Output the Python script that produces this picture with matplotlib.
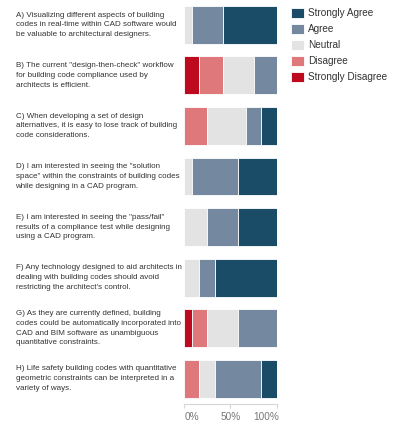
import matplotlib
matplotlib.use("Agg")
import matplotlib.pyplot as plt
import matplotlib.transforms as mtransforms
import numpy as np

plt.rcParams['font.family'] = ['Liberation Sans', 'DejaVu Sans']

questions = [
    'A) Visualizing different aspects of building\ncodes in real-time within CAD software would\nbe valuable to architectural designers.',
    'B) The current "design-then-check" workflow\nfor building code compliance used by\narchitects is efficient.',
    'C) When developing a set of design\nalternatives, it is easy to lose track of building\ncode considerations.',
    'D) I am interested in seeing the "solution\nspace" within the constraints of building codes\nwhile designing in a CAD program.',
    'E) I am interested in seeing the "pass/fail"\nresults of a compliance test while designing\nusing a CAD program.',
    "F) Any technology designed to aid architects in\ndealing with building codes should avoid\nrestricting the architect's control.",
    'G) As they are currently defined, building\ncodes could be automatically incorporated into\nCAD and BIM software as unambiguous\nquantitative constraints.',
    'H) Life safety building codes with quantitative\ngeometric constraints can be interpreted in a\nvariety of ways.',
]

# response counts (out of 12 respondents)
strongly_disagree = [0, 2, 0, 0, 0, 0, 1, 0]
disagree          = [0, 3, 3, 0, 0, 0, 2, 2]
neutral           = [1, 4, 5, 1, 3, 2, 4, 2]
agree             = [4, 3, 2, 6, 4, 2, 5, 6]
strongly_agree    = [7, 0, 2, 5, 5, 8, 0, 2]

categories = ['Strongly Disagree', 'Disagree', 'Neutral', 'Agree', 'Strongly Agree']
colors = ['#bd0a1e', '#de787b', '#e3e3e3', '#74889f', '#1b4c67']
tick_vals = [0, 0.5, 1.0]
tick_labels = ['0%', '50%', '100%']

series = np.array([strongly_disagree, disagree, neutral, agree, strongly_agree], dtype=float)
totals = series.sum(axis=0)
shares = series / totals

W, H = 400, 432
fig = plt.figure(figsize=(W / 100, H / 100), dpi=100)
ax = fig.add_axes([183.8 / W, (H - 404.0) / H, 93.2 / W, 404.4 / H])

y = np.arange(len(questions))
left = np.zeros(len(questions))
handles = []
for cat, col, vals in zip(categories, colors, shares):
    b = ax.barh(y, vals, left=left, height=0.75, color=col, edgecolor='white',
                linewidth=0.6, label=cat)
    handles.append(b)
    left += vals

ax.set_xlim(0, 1)
ax.set_ylim(len(questions) - 0.5, -0.5)
ax.set_yticks([])
ax.set_xticks(tick_vals)
ax.set_xticklabels(tick_labels)
for s in ['top', 'right', 'left']:
    ax.spines[s].set_visible(False)
ax.spines['bottom'].set_color('#d6d6d6')
ax.spines['bottom'].set_linewidth(0.8)
ax.tick_params(axis='x', colors='#d6d6d6', length=3, width=0.8, pad=3,
               labelsize=7.2, labelcolor='#777777')
xt = ax.get_xticklabels()
xt[0].set_ha('left')
xt[0].set_transform(xt[0].get_transform() + mtransforms.ScaledTranslation(0.5 / 100, 0, fig.dpi_scale_trans))
xt[-1].set_ha('right')
xt[-1].set_transform(xt[-1].get_transform() + mtransforms.ScaledTranslation(2.5 / 100, 0, fig.dpi_scale_trans))

trans = mtransforms.blended_transform_factory(fig.transFigure, ax.transData)
for i, q in enumerate(questions):
    ax.text(15.5 / W, i, q, transform=trans, ha='left', va='center',
            fontsize=5.75, color='#333333', linespacing=1.57)

leg = fig.legend(handles=handles[::-1], labels=categories[::-1],
                 loc='upper left', bbox_to_anchor=(287 / W, 1 - 4 / H),
                 frameon=False, fontsize=7.2, handlelength=1.3, handleheight=1.2,
                 handletextpad=0.42, labelspacing=0.55, borderaxespad=0)
for t in leg.get_texts():
    t.set_color('#333333')

fig.savefig('out.png', dpi=100)
